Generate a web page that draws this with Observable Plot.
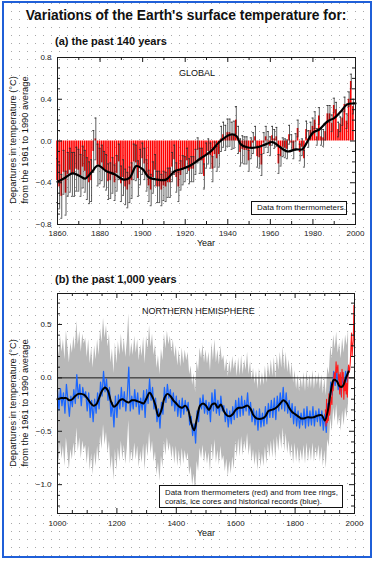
<!DOCTYPE html>
<html><head><meta charset="utf-8">
<script src="https://cdn.jsdelivr.net/npm/d3@7"></script>
<script src="https://cdn.jsdelivr.net/npm/@observablehq/plot@0.6"></script>
<style>
html,body{margin:0;padding:0;width:375px;height:561px;overflow:hidden;background:#fff;}
#page{position:absolute;left:0;top:0;width:375px;height:561px;font-family:"Liberation Sans",Arial,Helvetica,sans-serif;color:#111;
 background-image:url("data:image/svg+xml;utf8,<svg xmlns='http://www.w3.org/2000/svg' width='8' height='8'><rect x='3' y='3' width='1' height='1' fill='%23a8a8a8'/></svg>");}
#border{position:absolute;left:2px;top:1px;width:366px;height:553px;border:2px solid #1f5fd8;}
.t{position:absolute;white-space:nowrap;line-height:1;}
.c{transform:translateX(-50%);}
.rot{position:absolute;white-space:nowrap;line-height:1;font-size:9.3px;transform:translate(-50%,-50%) rotate(-90deg);}
.legend{position:absolute;border:1px solid #111;background:#fff;font-size:7.8px;line-height:8.6px;box-sizing:border-box;white-space:nowrap;}
.panel{position:absolute;left:0;}
</style></head>
<body><div id="page">
<div id="border"></div>
<div class="t c" style="left:186px;top:9px;font-size:13.8px;font-weight:bold;">Variations of the Earth's surface temperature for:</div>
<div class="t" style="left:55px;top:35.7px;font-size:11px;font-weight:bold;">(a) the past 140 years</div>
<div class="t" style="left:55px;top:273.7px;font-size:11px;font-weight:bold;">(b) the past 1,000 years</div>
<div class="rot" style="left:13.5px;top:140px;">Departures in temperature (°C)</div>
<div class="rot" style="left:25.8px;top:140px;">from the 1961 to 1990 average</div>
<div class="rot" style="left:13.5px;top:403px;">Departures in temperature (°C)</div>
<div class="rot" style="left:25.8px;top:403px;">from the 1961 to 1990 average</div>
<div id="panelA" class="panel" style="top:40px;"></div>
<div id="panelB" class="panel" style="top:285px;"></div>
<div class="t" style="left:179px;top:69.4px;font-size:9px;">GLOBAL</div>
<div class="t" style="left:142px;top:307.4px;font-size:9px;">NORTHERN HEMISPHERE</div>
<div class="t c" style="left:206px;top:239.4px;font-size:9px;">Year</div>
<div class="t c" style="left:206px;top:529.4px;font-size:9px;">Year</div>
<div class="legend" style="left:251px;top:201px;width:96px;height:14px;padding:2px 0 0 5px;font-size:8px;">Data from thermometers.</div>
<div class="legend" style="left:159px;top:485px;width:184px;height:23px;padding:3px 0 0 5px;">Data from thermometers (red) and from tree rings,<br>corals, ice cores and historical records (blue).</div>
</div>
<script>
// ---------- Panel (a): global annual anomalies 1860-1999 ----------
const globalYears = d3.range(1860, 2000);
const globalAnom = [
 -0.38,-0.44,-0.53,-0.30,-0.50,-0.32,-0.28,-0.32,-0.32,-0.27,
 -0.28,-0.33,-0.25,-0.29,-0.36,-0.40,-0.38,-0.10, 0.02,-0.23,
 -0.24,-0.21,-0.27,-0.30,-0.39,-0.38,-0.33,-0.40,-0.31,-0.20,
 -0.41,-0.35,-0.44,-0.47,-0.42,-0.38,-0.20,-0.21,-0.36,-0.25,
 -0.17,-0.22,-0.33,-0.43,-0.47,-0.35,-0.28,-0.44,-0.44,-0.47,
 -0.43,-0.44,-0.40,-0.40,-0.25,-0.18,-0.35,-0.44,-0.33,-0.28,
 -0.27,-0.19,-0.29,-0.27,-0.27,-0.20,-0.09,-0.19,-0.19,-0.34,
 -0.14,-0.10,-0.14,-0.27,-0.13,-0.17,-0.13, 0.02, 0.06, 0.03,
  0.08, 0.08, 0.05, 0.06, 0.20, 0.01,-0.11,-0.08,-0.09,-0.09,
 -0.19,-0.07,-0.02, 0.04,-0.15,-0.16,-0.23,-0.02, 0.04,-0.01,
 -0.05, 0.05, 0.02, 0.04,-0.22,-0.15,-0.06,-0.07,-0.08, 0.06,
 -0.02,-0.09,-0.01, 0.12,-0.11,-0.06,-0.17, 0.11, 0.02, 0.10,
  0.14, 0.20, 0.04, 0.24, 0.04, 0.03, 0.09, 0.26, 0.26, 0.17,
  0.34, 0.30, 0.11, 0.16, 0.22, 0.35, 0.19, 0.40, 0.57, 0.33
];
// two-standard-error half widths, one per decade
const errDecades = [1860,1870,1880,1890,1900,1910,1920,1930,1940,1950,1960,1970,1980,1990];
const errHalf    = [0.21,0.20,0.17,0.17,0.15,0.14,0.12,0.12,0.13,0.10,0.09,0.08,0.08,0.07];
// smoothed curve (black)
const smoothAYears = [1860,1863,1867,1870,1873,1876,1879,1883,1887,1891,1894,1897,1900,1903,1907,1911,1915,1918,1922,1927,1932,1936,1941,1944,1946,1949,1954,1958,1961,1964,1968,1972,1975,1977,1980,1983,1987,1990,1993,1996,1999,2000];
const smoothAValues = [-0.39,-0.36,-0.31,-0.33,-0.36,-0.30,-0.235,-0.29,-0.32,-0.37,-0.35,-0.24,-0.27,-0.35,-0.37,-0.37,-0.29,-0.27,-0.24,-0.17,-0.10,-0.01,0.06,0.05,-0.03,-0.06,-0.06,-0.03,-0.01,-0.05,-0.10,-0.08,-0.08,-0.02,0.08,0.11,0.19,0.22,0.28,0.35,0.36,0.36];

// ---------- Panel (b): NH reconstruction 1000-1980 (5-yr steps) ----------
const reconYears = d3.range(1000, 1981, 5);
const reconValues = [
 -0.12,-0.30,-0.10,-0.26,-0.14,-0.33,-0.06,-0.21,-0.36,-0.17,
 -0.27,-0.11,-0.24, 0.03,-0.19,-0.06,-0.26,-0.09,-0.18,-0.13,
 -0.31,-0.14,-0.37,-0.21,-0.41,-0.20,-0.33,-0.14,-0.29,-0.04,
 -0.17, 0.06,-0.13,-0.01,-0.21,-0.09,-0.36,-0.23,-0.46,-0.17,
 -0.37,-0.16,-0.29,-0.09,-0.27,-0.13,-0.31,-0.16, 0.10,-0.31,
 -0.17,-0.29,-0.11,-0.27,-0.14,-0.34,-0.19,-0.30,-0.12,-0.37,
 -0.11,-0.24,-0.01,-0.21,-0.09,-0.29,-0.19,-0.41,-0.29,-0.47,
 -0.23,-0.34,-0.09,-0.23,-0.06,-0.19,-0.11,-0.26,-0.14,-0.31,
 -0.17,-0.36,-0.21,-0.37,-0.19,-0.34,-0.21,-0.31,-0.23,-0.44,
 -0.36,-0.54,-0.43,-0.61,-0.31,-0.41,-0.19,-0.29,-0.16,-0.33,
 -0.21,-0.34,-0.23,-0.41,-0.14,-0.31,-0.11,-0.33,-0.21,-0.35,
 -0.17,-0.31,-0.26,-0.41,-0.29,-0.46,-0.31,-0.43,-0.27,-0.39,
 -0.21,-0.37,-0.19,-0.36,-0.17,-0.35,-0.21,-0.31,-0.14,-0.35,
 -0.23,-0.41,-0.29,-0.44,-0.31,-0.49,-0.29,-0.46,-0.33,-0.45,
 -0.27,-0.43,-0.24,-0.37,-0.21,-0.37,-0.19,-0.39,-0.17,-0.31,
 -0.14,-0.29,-0.09,-0.31,-0.14,-0.33,-0.21,-0.37,-0.24,-0.43,
 -0.27,-0.45,-0.31,-0.47,-0.33,-0.44,-0.29,-0.47,-0.27,-0.45,
 -0.31,-0.44,-0.27,-0.45,-0.31,-0.41,-0.29,-0.45,-0.31,-0.49,
 -0.34,-0.51,-0.24,-0.31,-0.04,-0.16, 0.06,-0.07, 0.09,-0.11,
 -0.01,-0.16, 0.03,-0.11, 0.06,-0.04, 0.11
];
// two-sigma uncertainty half width by period
const uncertStart = [1000, 1400, 1600, 1800];
const uncertHalf  = [0.50, 0.47, 0.38, 0.34];
// instrumental NH (red)
const instrYears = [1902,1904,1906,1908,1910,1912,1914,1916,1918,1920,1922,1924,1926,1928,1930,1932,1934,1936,1938,1940,1942,1944,1946,1948,1950,1952,1954,1956,1958,1960,1962,1964,1966,1968,1970,1972,1974,1976,1978,1980,1982,1984,1986,1988,1990,1992,1994,1996,1998,1999];
const instrValues = [-0.30,-0.45,-0.20,-0.42,-0.38,-0.40,-0.15,-0.35,-0.30,-0.22,-0.18,-0.25,-0.05,-0.12,-0.02,0.05,-0.03,0.02,0.15,0.05,0.08,0.12,-0.02,0.03,-0.15,0.05,-0.05,-0.18,0.08,0.00,0.05,-0.20,-0.05,-0.12,-0.02,-0.15,-0.05,-0.18,0.02,0.12,0.05,0.08,0.15,0.30,0.42,0.20,0.30,0.35,0.68,0.50];
// 40-year smoothed (black)
const smoothBYears = d3.range(1000, 1981, 10);
const smoothBValues = [
 -0.20,-0.19,-0.19,-0.19,-0.21,-0.20,-0.17,-0.15,-0.15,-0.16,
 -0.19,-0.23,-0.26,-0.25,-0.19,-0.12,-0.09,-0.12,-0.22,-0.27,
 -0.25,-0.21,-0.20,-0.22,-0.23,-0.21,-0.21,-0.22,-0.23,-0.24,
 -0.19,-0.14,-0.18,-0.26,-0.36,-0.30,-0.19,-0.15,-0.17,-0.21,
 -0.24,-0.27,-0.28,-0.26,-0.30,-0.42,-0.49,-0.37,-0.26,-0.24,
 -0.26,-0.30,-0.25,-0.24,-0.28,-0.25,-0.31,-0.35,-0.36,-0.34,
 -0.30,-0.28,-0.28,-0.27,-0.26,-0.29,-0.35,-0.38,-0.385,-0.38,
 -0.36,-0.31,-0.30,-0.29,-0.27,-0.24,-0.21,-0.23,-0.28,-0.32,
 -0.34,-0.36,-0.38,-0.38,-0.37,-0.37,-0.37,-0.36,-0.35,-0.35,
 -0.40,-0.31,-0.13,-0.02,-0.03,-0.08,-0.08,-0.01,0.06
];

// ---------- tick positions ----------
const aXMajor = d3.range(1860, 2001, 20), aXMinor = d3.range(1870, 2000, 20);
const aYMajor = [-0.8, -0.4, 0, 0.4, 0.8], aYMinor = [-0.7,-0.6,-0.5,-0.3,-0.2,-0.1,0.1,0.2,0.3,0.5,0.6,0.7];
const bXMajor = d3.range(1000, 2001, 200), bXMinor = d3.range(1050, 2000, 50).filter(d => d % 200 !== 0);
const bYMajor = [-1, -0.5, 0, 0.5], bYMinor = [-1.2,-1.1,-0.9,-0.8,-0.7,-0.6,-0.4,-0.3,-0.2,-0.1,0.1,0.2,0.3,0.4,0.6,0.7];

const W = 375;
const font = "'Liberation Sans', Arial, Helvetica, sans-serif";
const ink = "#1a1a1a";

function frameTicks(xMaj, xMin, yMaj, yMin, iw, ih) {
  const s = {stroke: ink, strokeWidth: 1};
  return [
    Plot.ruleX(xMaj, {...s, insetTop: ih - 5}),
    Plot.ruleX(xMaj, {...s, insetBottom: ih - 5}),
    Plot.ruleX(xMin, {...s, insetTop: ih - 3}),
    Plot.ruleX(xMin, {...s, insetBottom: ih - 3}),
    Plot.ruleY(yMaj, {...s, insetRight: iw - 5}),
    Plot.ruleY(yMaj, {...s, insetLeft: iw - 5}),
    Plot.ruleY(yMin, {...s, insetRight: iw - 3}),
    Plot.ruleY(yMin, {...s, insetLeft: iw - 3}),
    Plot.frame({stroke: ink, strokeWidth: 1})
  ];
}

// panel a
const aM = {top: 17, right: 20, bottom: 31, left: 57}, aH = 215;
const aIW = W - aM.left - aM.right, aIH = aH - aM.top - aM.bottom;
const aData = globalYears.map((y, i) => {
  const k = errDecades.findIndex(d => y >= d && y < d + 10);
  return {year: y, v: globalAnom[i], e: errHalf[k]};
});
const smoothA = smoothAYears.map((y, i) => ({year: y, v: smoothAValues[i]}));

const plotA = Plot.plot({
  width: W, height: aH,
  marginTop: aM.top, marginRight: aM.right, marginBottom: aM.bottom, marginLeft: aM.left,
  x: {domain: [1860, 2000]},
  y: {domain: [-0.8, 0.8]},
  style: {background: "transparent", fontFamily: font, fontSize: "8px", overflow: "visible"},
  marks: [
    Plot.rectY(aData, {x1: d => d.year - 0.38, x2: d => d.year + 0.38, y1: 0, y2: "v", fill: "#ff0000"}),
    Plot.ruleX(aData, {x: "year", y1: d => d.v - d.e, y2: d => d.v + d.e, stroke: "#2a2a2a", strokeWidth: 0.75}),
    Plot.ruleY(aData, {y: d => d.v - d.e, x1: d => d.year - 0.45, x2: d => d.year + 0.45, stroke: "#2a2a2a", strokeWidth: 0.8}),
    Plot.ruleY(aData, {y: d => d.v + d.e, x1: d => d.year - 0.45, x2: d => d.year + 0.45, stroke: "#2a2a2a", strokeWidth: 0.8}),
    Plot.line(smoothA, {x: "year", y: "v", curve: "catmull-rom", stroke: "#000", strokeWidth: 2.2}),
    ...frameTicks(aXMajor, aXMinor, aYMajor, aYMinor, aIW, aIH),
    Plot.axisX(aXMajor, {tickSize: 0, tickPadding: 6, tickFormat: d => String(d), label: null, fill: "#222"}),
    Plot.axisY(aYMajor, {tickSize: 0, tickPadding: 6, tickFormat: d3.format(".1f"), label: null, fill: "#222"})
  ]
});
document.getElementById("panelA").appendChild(plotA);

// panel b
const bM = {top: 8, right: 21, bottom: 22, left: 57}, bH = 250;
const bIW = W - bM.left - bM.right, bIH = bH - bM.top - bM.bottom;
const recon = reconYears.map((y, i) => {
  let k = 0;
  uncertStart.forEach((s, j) => { if (y >= s) k = j; });
  return {year: y, v: reconValues[i], u: uncertHalf[k]};
});
const instr = instrYears.map((y, i) => ({year: y, v: instrValues[i]}));
const smoothB = smoothBYears.map((y, i) => ({year: y, v: smoothBValues[i]}));

const plotB = Plot.plot({
  width: W, height: bH,
  marginTop: bM.top, marginRight: bM.right, marginBottom: bM.bottom, marginLeft: bM.left,
  x: {domain: [1000, 2000]},
  y: {domain: [-1.27, 0.79]},
  style: {background: "transparent", fontFamily: font, fontSize: "8px", overflow: "visible"},
  marks: [
    Plot.areaY(recon, {x: "year", y1: d => d.v - d.u, y2: d => d.v + d.u, fill: "#b8b8b8"}),
    Plot.ruleY([0], {stroke: ink, strokeWidth: 1}),
    Plot.line(recon, {x: "year", y: "v", stroke: "#1a66ff", strokeWidth: 1.25}),
    Plot.line(instr, {x: "year", y: "v", stroke: "#ff1a1a", strokeWidth: 1.1}),
    Plot.line(smoothB, {x: "year", y: "v", curve: "catmull-rom", stroke: "#000", strokeWidth: 2}),
    ...frameTicks(bXMajor, bXMinor, bYMajor, bYMinor, bIW, bIH),
    Plot.axisX(bXMajor, {tickSize: 0, tickPadding: 7, tickFormat: d => String(d), label: null, fill: "#222"}),
    Plot.axisY(bYMajor, {tickSize: 0, tickPadding: 6, tickFormat: d3.format(".1f"), label: null, fill: "#222"})
  ]
});
document.getElementById("panelB").appendChild(plotB);
</script>
</body></html>
